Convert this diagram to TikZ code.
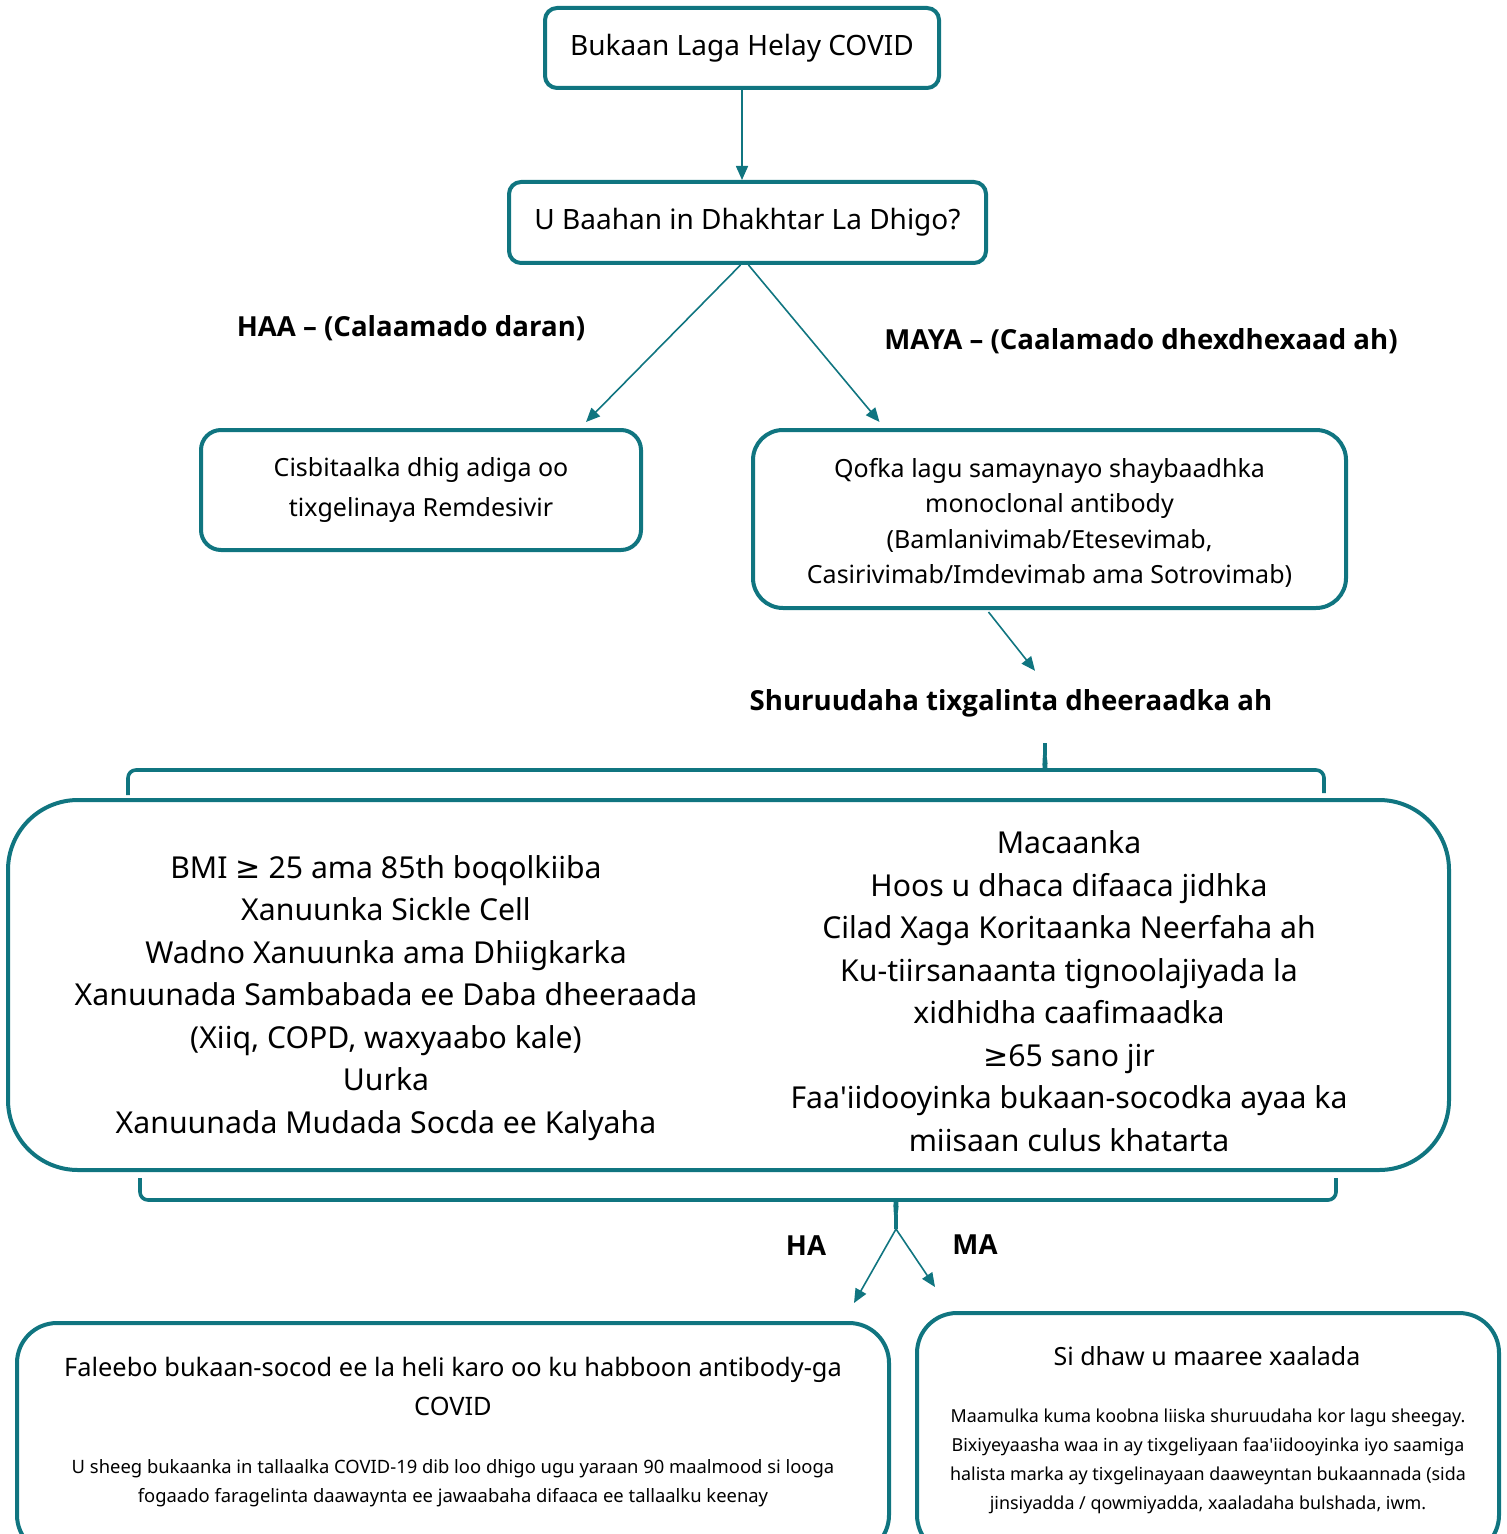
\documentclass[tikz,border=0pt]{standalone}
\usepackage{fontspec}
\setmainfont{Noto Sans}
\newfontfamily\boldfont{Open Sans}
\newfontfamily\symfont{DejaVu Sans}
\usetikzlibrary{arrows.meta,calc}
\definecolor{flowteal}{RGB}{16,117,128}

\begin{document}
\begin{tikzpicture}[
        x=0.5pt, y=-0.5pt,
        box/.style={draw=flowteal, line width=2pt, rounded corners=6pt, inner sep=0pt},
        txt/.style={align=center, inner sep=0pt},
        link/.style={draw=flowteal, line width=0.8pt, -{Triangle[length=7pt,width=6pt]}},
        brace/.style={draw=flowteal, line width=1.8pt, rounded corners=4pt},
        answer/.style={txt, font=\boldfont\fontsize{13.8}{17}\selectfont\bfseries},
        heading/.style={txt, font=\fontsize{14}{17}\selectfont},
        big/.style={txt, font=\fontsize{15.1}{21.25}\selectfont},
        small/.style={txt, font=\fontsize{9.2}{14.75}\selectfont}
    ]
    \useasboundingbox (0,0) rectangle (1507,1534);
    % question boxes
    \node[box, minimum width=197pt, minimum height=40pt] (start) at (742,48) {};
    \node[heading] (startT) at (start) {Bukaan Laga Helay COVID};
    \node[box, minimum width=238.5pt, minimum height=40.5pt] (doctor) at (747.5,222.5) {};
    \node[heading] (doctorT) at (doctor) {U Baahan in Dhakhtar La Dhigo?};
    \node[answer] (yes) at (411,328) {HAA – (Calaamado daran)};
    \node[answer] (no) at (1141,341) {MAYA – (Caalamado dhexdhexaad ah)};
    % first answers
    \node[box, rounded corners=10pt, minimum width=220pt, minimum height=60pt] (hosp) at (421,490) {};
    \node[txt, font=\fontsize{12.5}{20}\selectfont] (hospT) at (hosp) {Cisbitaalka dhig adiga oo\\tixgelinaya Remdesivir};
    \node[box, rounded corners=15pt, minimum width=296.5pt, minimum height=89pt] (mab) at (1049.5,519) {};
    \node[txt, font=\fontsize{12.5}{17.7}\selectfont] (mabT) at (1049.5,523) {Qofka lagu samaynayo shaybaadhka\\monoclonal antibody\\(Bamlanivimab/Etesevimab,\\Casirivimab/Imdevimab ama Sotrovimab)};
    \node[answer] (more) at (1011,703) {Shuruudaha tixgalinta dheeraadka ah};
    % criteria
    \node[box, rounded corners=35pt, minimum width=720.5pt, minimum height=185pt] (crit) at (728.5,985) {};
    \node[big] (critL) at (386,998) {BMI {\symfont ≥} 25 ama 85th boqolkiiba\\Xanuunka Sickle Cell\\Wadno Xanuunka ama Dhiigkarka\\Xanuunada Sambabada ee Daba dheeraada\\(Xiiq, COPD, waxyaabo kale)\\Uurka\\Xanuunada Mudada Socda ee Kalyaha};
    \node[big] (critR) at (1069,991) {Macaanka\\Hoos u dhaca difaaca jidhka\\Cilad Xaga Koritaanka Neerfaha ah\\Ku-tiirsanaanta tignoolajiyada la\\xidhidha caafimaadka\\{\symfont ≥}65 sano jir\\Faa\textquotesingle iidooyinka bukaan-socodka ayaa ka\\miisaan culus khatarta};
    \coordinate (toptip) at (1045,743);
    \coordinate (bottip) at (896,1229);
    \draw[brace] (128,795) -- (128,770) -- (1038,770) to[out=0,in=90] (1045,760) -- (toptip);
    \draw[brace] (1045,760) to[out=90,in=180] (1052,770) -- (1324,770) -- (1324,793);
    \draw[brace] (140,1178) -- (140,1200) -- (889,1200) to[out=0,in=-90] (896,1210) -- (bottip);
    \draw[brace] (896,1210) to[out=-90,in=180] (903,1200) -- (1336,1200) -- (1336,1178);
    \node[answer] (ha) at (806,1246) {HA};
    \node[answer] (ma) at (975,1245) {MA};
    % outcomes
    \node[box, rounded corners=20pt, minimum width=436pt, minimum height=116pt] (infuse) at (453,1439) {};
    \node[txt, font=\fontsize{12.7}{19.5}\selectfont] (infuseT) at (453,1386) {Faleebo bukaan-socod ee la heli karo oo ku habboon antibody-ga\\COVID};
    \node[small] (infuseS) at (453,1483) {U sheeg bukaanka in tallaalka COVID-19 dib loo dhigo ugu yaraan 90 maalmood si looga\\fogaado faragelinta daawaynta ee jawaabaha difaaca ee tallaalku keenay};
    \node[box, rounded corners=20pt, minimum width=291pt, minimum height=121pt] (watch) at (1208,1434) {};
    \node[txt, font=\fontsize{12.5}{15}\selectfont] (watchT) at (1207,1356) {Si dhaw u maaree xaalada};
    \node[small, font=\fontsize{8.95}{14.5}\selectfont] (watchS) at (1208,1461) {Maamulka kuma koobna liiska shuruudaha kor lagu sheegay.\\Bixiyeyaasha waa in ay tixgeliyaan faa\textquotesingle iidooyinka iyo saamiga\\halista marka ay tixgelinayaan daaweyntan bukaannada (sida\\jinsiyadda / qowmiyadda, xaaladaha bulshada, iwm.};
    % connectors
    \draw[link] (start.south) -- (start.south |- doctor.north);
    \draw[link] ($(doctor.south)+(-7,0)$) -- ($(hosp.north)+(165,-6)$);
    \draw[link] ($(doctor.south)+(1,0)$) -- ($(mab.north)+(-170,-6)$);
    \draw[link] ($(mab.south)+(-61,2)$) -- ($(more.north)+(24,-18)$);
    \draw[link] (bottip) -- ($(infuse.north east)+(-37,-18)$);
    \draw[link] (bottip) -- ($(watch.north west)+(20,-24)$);
\end{tikzpicture}
\end{document}
